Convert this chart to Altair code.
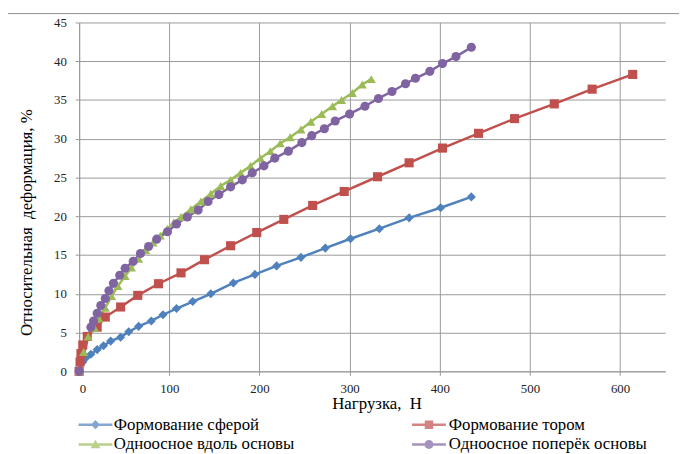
import altair as alt
import pandas as pd

# ---------------- data ----------------
series_names = ["Формование сферой", "Формование тором",
                "Одноосное вдоль основы", "Одноосное поперёк основы"]
colors = ["#4F81BD", "#C0504D", "#9BBB59", "#8064A2"]
marker_shapes = ["diamond", "square", "triangle-up", "circle"]

sphere_load = [0, 4, 8, 13, 20, 27, 35, 46, 55, 66, 80, 93, 108, 126, 146,
               171, 195, 219, 246, 273, 301, 333, 366, 401, 435]
sphere_strain = [0, 1.2, 1.8, 2.2, 2.8, 3.3, 3.9, 4.4, 5.1, 5.8, 6.5, 7.3, 8.1,
                 9.0, 10.0, 11.4, 12.5, 13.6, 14.7, 15.9, 17.1, 18.4, 19.8, 21.1, 22.5]

torus_load = [0, 1, 2, 4, 9, 20, 29, 46, 65, 88, 113, 139, 168, 197, 227, 259,
              294, 331, 366, 403, 443, 483, 527, 569, 614]
torus_strain = [0, 1.2, 2.3, 3.4, 4.5, 5.7, 7.0, 8.3, 9.8, 11.3, 12.7, 14.4, 16.2,
                17.9, 19.6, 21.4, 23.2, 25.1, 26.9, 28.8, 30.7, 32.6, 34.5, 36.4, 38.3]

along_load = [0, 5, 10, 17, 22, 29, 36, 43, 51, 58, 66, 74, 82, 90, 98, 105, 113,
              124, 135, 146, 157, 168, 179, 190, 201, 212, 223, 234, 246, 257, 269,
              281, 291, 303, 314, 324]
along_strain = [0, 2.5, 4.5, 5.6, 6.8, 8.2, 9.7, 11.0, 12.3, 13.4, 14.5, 15.6, 16.6,
                17.5, 18.4, 19.2, 19.9, 20.9, 21.9, 22.9, 23.9, 24.7, 25.6, 26.5,
                27.5, 28.4, 29.4, 30.2, 31.2, 32.2, 33.2, 34.2, 35.0, 35.9, 37.0, 37.7]

across_load = [0, 13, 16, 20, 24, 29, 33, 38, 45, 51, 60, 68, 77, 86, 98, 108, 120,
               132, 143, 155, 168, 181, 192, 205, 217, 232, 247, 258, 272, 284, 300,
               317, 332, 347, 362, 373, 389, 403, 418, 435]
across_strain = [0, 5.7, 6.5, 7.5, 8.5, 9.4, 10.4, 11.35, 12.4, 13.3, 14.2, 15.2, 16.1,
                 17.05, 18.0, 19.0, 19.9, 20.8, 21.9, 22.8, 23.8, 24.7, 25.6, 26.5,
                 27.5, 28.4, 29.5, 30.4, 31.3, 32.3, 33.2, 34.2, 35.2, 36.1, 37.1,
                 37.8, 38.7, 39.7, 40.6, 41.8]

x_ticks = [0, 100, 200, 300, 400, 500, 600]
y_ticks = [0, 5, 10, 15, 20, 25, 30, 35, 40, 45]

rows = []
for name, xs, ys in zip(series_names,
                        [sphere_load, torus_load, along_load, across_load],
                        [sphere_strain, torus_strain, along_strain, across_strain]):
    for i, (xv, yv) in enumerate(zip(xs, ys)):
        rows.append({"series": name, "load": xv, "strain": yv, "order": i})
df = pd.DataFrame(rows)

# ---------------- styling ----------------
FONT = "Liberation Serif, Times New Roman, DejaVu Serif, serif"
GRID = "#999999"

# legend symbols: line segment + marker (unit box, scaled by symbol size)
line_part = "M-3.8,-0.28H-0.6V0.28H-3.8Z M0.6,-0.28H3.8V0.28H0.6Z "
legend_paths = [
    line_part + "M0,-1.05L1.05,0L0,1.05L-1.05,0Z",
    line_part + "M-0.95,-0.95H0.95V0.95H-0.95Z",
    line_part + "M0,-1.05L1.1,0.85H-1.1Z",
    line_part + "M-1,0A1,1 0 1,1 1,0A1,1 0 1,1 -1,0Z",
]

x_axis = alt.Axis(values=x_ticks, title="Нагрузка,\u00a0 Н", grid=True,
                  labelOverlap=False, titleX=301, titleY=33,
                  titleBaseline="middle", titleAlign="center")
y_axis = alt.Axis(values=y_ticks, title="Относительная\u00a0 деформация, %",
                  grid=True, labelOverlap=False, titleX=-53, titleY=202,
                  titleAngle=270, titleBaseline="middle", titleAlign="center")


def xe():
    return alt.X("load:Q", scale=alt.Scale(domain=[0, 650], nice=False, zero=True),
                 axis=x_axis)


def ye():
    return alt.Y("strain:Q", scale=alt.Scale(domain=[0, 45], nice=False), axis=y_axis)


color_all = alt.Color("series:N", scale=alt.Scale(domain=series_names, range=colors),
                      legend=None)

lines = alt.Chart(df).mark_line(strokeWidth=2.5).encode(
    x=xe(), y=ye(), color=color_all, order="order:Q", detail="series:N")

markers = alt.Chart(df).mark_point(filled=True, opacity=1, size=85).encode(
    x=xe(), y=ye(), color=color_all,
    shape=alt.Shape("series:N", scale=alt.Scale(domain=series_names, range=marker_shapes),
                    legend=None))


def legend_layer(idx, lx, loff):
    names = [series_names[i] for i in idx]
    leg = alt.Legend(title=None, orient="none", legendX=lx, legendY=398.5,
                     direction="vertical", padding=0, rowPadding=2,
                     symbolSize=81, symbolStrokeWidth=0, labelOffset=loff,
                     labelLimit=400,
                     labelFont=FONT, labelFontSize=17, labelColor="#000000")
    return alt.Chart(df).transform_filter(
        alt.FieldOneOfPredicate(field="series", oneOf=names)
    ).transform_filter(alt.datum.order == 0).mark_point(filled=True, size=1).encode(
        x=xe(), y=ye(),
        color=alt.Color("series:N", scale=alt.Scale(domain=names, range=[colors[i] for i in idx]),
                        legend=leg),
        shape=alt.Shape("series:N", scale=alt.Scale(domain=names,
                                                    range=[legend_paths[i] for i in idx]),
                        legend=leg),
    )


leg_a = legend_layer([0, 2], 8, 10)
leg_b = legend_layer([1, 3], 345.5, 11.5)

frame = alt.Chart(alt.Data(values=[{}])).mark_rect(
    fill="transparent", stroke="#8c8c8c", strokeWidth=1, clip=False).encode(
    x=alt.value(-73), x2=alt.value(640), y=alt.value(-9), y2=alt.value(460))

chart = alt.layer(lines, markers, leg_a, leg_b, frame).resolve_scale(
    color="independent", shape="independent"
).resolve_legend(color="independent", shape="independent").properties(
    width=593, height=353,
    autosize=alt.AutoSizeParams(type="none"),
    padding={"left": 72, "top": 12, "right": 14, "bottom": 81},
    background="white",
).configure_view(stroke=None).configure_axis(
    labelFont=FONT, labelFontSize=13, labelColor="#222222",
    titleFont=FONT, titleFontSize=17, titleColor="#000000", titleFontWeight="normal",
    gridColor=GRID, gridWidth=1, gridOpacity=1,
    domainColor=GRID, tickColor=GRID, tickSize=4,
).configure_axisX(labelPadding=7).configure_axisY(labelPadding=9)

chart.save("out.html", embed_options={"renderer": "svg", "actions": False})
